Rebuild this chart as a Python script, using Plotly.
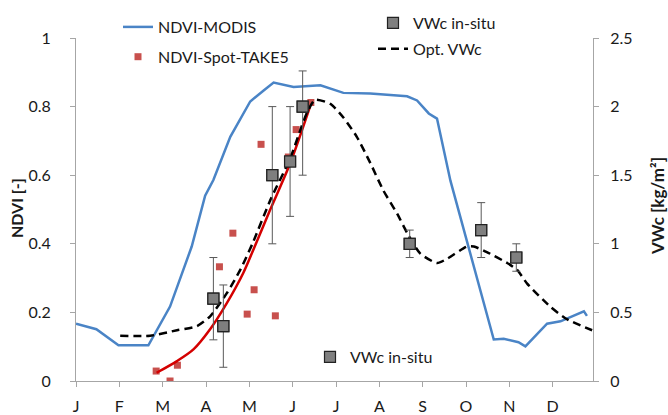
import plotly.graph_objects as go

# ---------------- data (x in month units: 0 = January tick) ----------------
month_labels = ["J", "F", "M", "A", "M", "J", "J", "A", "S", "O", "N", "D"]
month_ticks = list(range(12))

modis_x = [0.0, 0.47, 0.98, 1.67, 2.17, 2.67, 2.98, 3.17, 3.56, 4.02, 4.33, 4.56,
           5.02, 5.64, 6.17, 6.79, 7.64, 7.87, 8.14, 8.33, 8.64, 9.64, 9.87,
           10.21, 10.37, 10.87, 11.18, 11.72, 11.79]
modis_ndvi = [0.167, 0.151, 0.104, 0.104, 0.217, 0.392, 0.540, 0.586, 0.712, 0.815,
              0.847, 0.870, 0.857, 0.862, 0.840, 0.838, 0.830, 0.818, 0.780, 0.765,
              0.584, 0.121, 0.123, 0.113, 0.101, 0.167, 0.174, 0.203, 0.190]

spot_x = [1.85, 2.17, 2.34, 3.31, 3.62, 3.95, 4.11, 4.27, 4.60, 4.90, 5.08, 5.42]
spot_ndvi = [0.029, 0.0, 0.046, 0.333, 0.431, 0.195, 0.266, 0.690, 0.190, 0.653, 0.733, 0.812]

trend_x = [1.86, 2.33, 2.71, 3.09, 3.48, 3.86, 4.10, 4.48, 4.94, 5.40]
trend_ndvi = [0.024, 0.058, 0.092, 0.150, 0.227, 0.315, 0.385, 0.499, 0.634, 0.800]

opt_x = [1.02, 1.71, 2.33, 2.79, 3.09, 3.48, 3.79, 4.07, 4.50, 4.94, 5.20, 5.35,
         5.52, 5.87, 6.17, 6.48, 6.79, 7.09, 7.41, 7.64, 7.94, 8.33, 8.56, 9.02,
         9.18, 9.48, 9.95, 10.18, 10.41, 10.95, 11.33, 11.91]
opt_vwc = [0.33, 0.33, 0.37, 0.40, 0.47, 0.64, 0.81, 1.00, 1.33, 1.62, 1.85, 1.97,
           2.05, 2.02, 1.92, 1.78, 1.59, 1.39, 1.22, 1.08, 0.93, 0.86, 0.89, 0.98,
           0.98, 0.94, 0.86, 0.81, 0.71, 0.54, 0.45, 0.37]

insitu_x = [3.17, 3.40, 4.53, 4.94, 5.23, 7.70, 9.35, 10.16]
insitu_vwc = [0.6, 0.4, 1.5, 1.6, 2.0, 1.0, 1.1, 0.9]
insitu_err_plus = [0.3, 0.3, 0.5, 0.4, 0.26, 0.1, 0.2, 0.1]
insitu_err_minus = [0.3, 0.3, 0.5, 0.4, 0.5, 0.1, 0.2, 0.1]

y_ticks = [0, 0.2, 0.4, 0.6, 0.8, 1]
y2_ticks = [0, 0.5, 1, 1.5, 2, 2.5]

y_title = "NDVI [-]"
y2_title = "VWc [kg/m²]"

# ---------------- styles ----------------
FONT = "Lato, 'Open Sans', sans-serif"
W, H = 668, 415
AXIS_COL = "#a6a6a6"
TXT = "#1a1a1a"
BLUE = "#4a84c6"
RED_PT = "#c8504d"
RED_LN = "#d40000"
GREY = "#7f7f7f"

sq_marker = dict(symbol="square", size=11, color=GREY, line=dict(color="#222222", width=1.2))

fig = go.Figure()

fig.add_trace(go.Scatter(
    x=modis_x, y=modis_ndvi, mode="lines", name="NDVI-MODIS",
    line=dict(color=BLUE, width=2.5), legend="legend", legendgroup="a", legendrank=1))

fig.add_trace(go.Scatter(
    x=spot_x, y=spot_ndvi, mode="markers", name="NDVI-Spot-TAKE5",
    marker=dict(symbol="square", size=7, color=RED_PT), legend="legend",
    legendgroup="b", legendrank=2))

fig.add_trace(go.Scatter(
    x=trend_x, y=trend_ndvi, mode="lines", showlegend=False,
    line=dict(color=RED_LN, width=2.5, shape="spline", smoothing=0.8)))

fig.add_trace(go.Scatter(
    x=opt_x, y=opt_vwc, mode="lines", name="Opt. VWc", yaxis="y2",
    line=dict(color="black", width=2.5, dash="8px,5px", shape="spline", smoothing=0.6),
    legend="legend2", legendgroup="d", legendrank=2))

fig.add_trace(go.Scatter(
    x=insitu_x, y=insitu_vwc, mode="markers", name="VWc in-situ", yaxis="y2",
    marker=sq_marker,
    error_y=dict(type="data", symmetric=False, array=insitu_err_plus,
                 arrayminus=insitu_err_minus, color="#595959", thickness=1, width=4),
    legend="legend2", legendgroup="c", legendrank=1))

# same in-situ series listed again in the bottom legend (identical overlay)
fig.add_trace(go.Scatter(
    x=insitu_x, y=insitu_vwc, mode="markers", name="VWc in-situ", yaxis="y2",
    marker=sq_marker, legend="legend3"))

L, R, T, B = 76, 75, 38, 34
PW, PH = W - L - R, H - T - B


def lx(px):
    return px / W


def ly(py):
    return 1 - py / H


def px2paper_x(px):
    return (px - L) / PW


def py2paper_y(py):
    return (H - B - py) / PH


leg_common = dict(xref="container", yref="container", yanchor="top", xanchor="left",
                  bgcolor="rgba(0,0,0,0)", font=dict(family=FONT, size=16, color=TXT),
                  traceorder="grouped", itemwidth=30)

axis_common = dict(showgrid=False, zeroline=False, showline=True, linecolor=AXIS_COL,
                   linewidth=1, ticks="outside", ticklen=5, tickcolor=AXIS_COL,
                   tickfont=dict(family=FONT, size=16, color=TXT))

fig.update_layout(
    width=W, height=H, autosize=False,
    paper_bgcolor="white", plot_bgcolor="white",
    margin=dict(l=L, r=R, t=T, b=B, pad=0, autoexpand=False),
    font=dict(family=FONT, size=16, color=TXT),
    xaxis=dict(range=[0, 11.93], tickmode="array", tickvals=month_ticks,
               ticktext=month_labels, ticklabelstandoff=6, **axis_common),
    yaxis=dict(range=[0, 1], tickmode="array", tickvals=y_ticks,
               ticklabelstandoff=16, **axis_common),
    yaxis2=dict(range=[0, 2.5], tickmode="array", tickvals=y2_ticks, overlaying="y",
                side="right", ticklabelstandoff=8, **axis_common),
    legend=dict(x=lx(118), y=ly(10), tracegroupgap=6, **leg_common),
    legend2=dict(x=lx(373), y=ly(6), tracegroupgap=2, **leg_common),
    legend3=dict(x=lx(310), y=ly(340), **leg_common),
    annotations=[
        dict(text="<b>" + y_title + "</b>", textangle=-90, xref="paper", yref="paper",
             x=px2paper_x(16), y=py2paper_y(208), showarrow=False,
             xanchor="center", yanchor="middle",
             font=dict(family=FONT, size=16, color=TXT)),
        dict(text="<b>" + y2_title + "</b>", textangle=-90, xref="paper", yref="paper",
             x=px2paper_x(657), y=py2paper_y(206), showarrow=False,
             xanchor="center", yanchor="middle",
             font=dict(family=FONT, size=17, color=TXT)),
    ],
)

fig.write_html("out.html", config={"displayModeBar": False},
               post_script="document.body.style.margin='0px';")
